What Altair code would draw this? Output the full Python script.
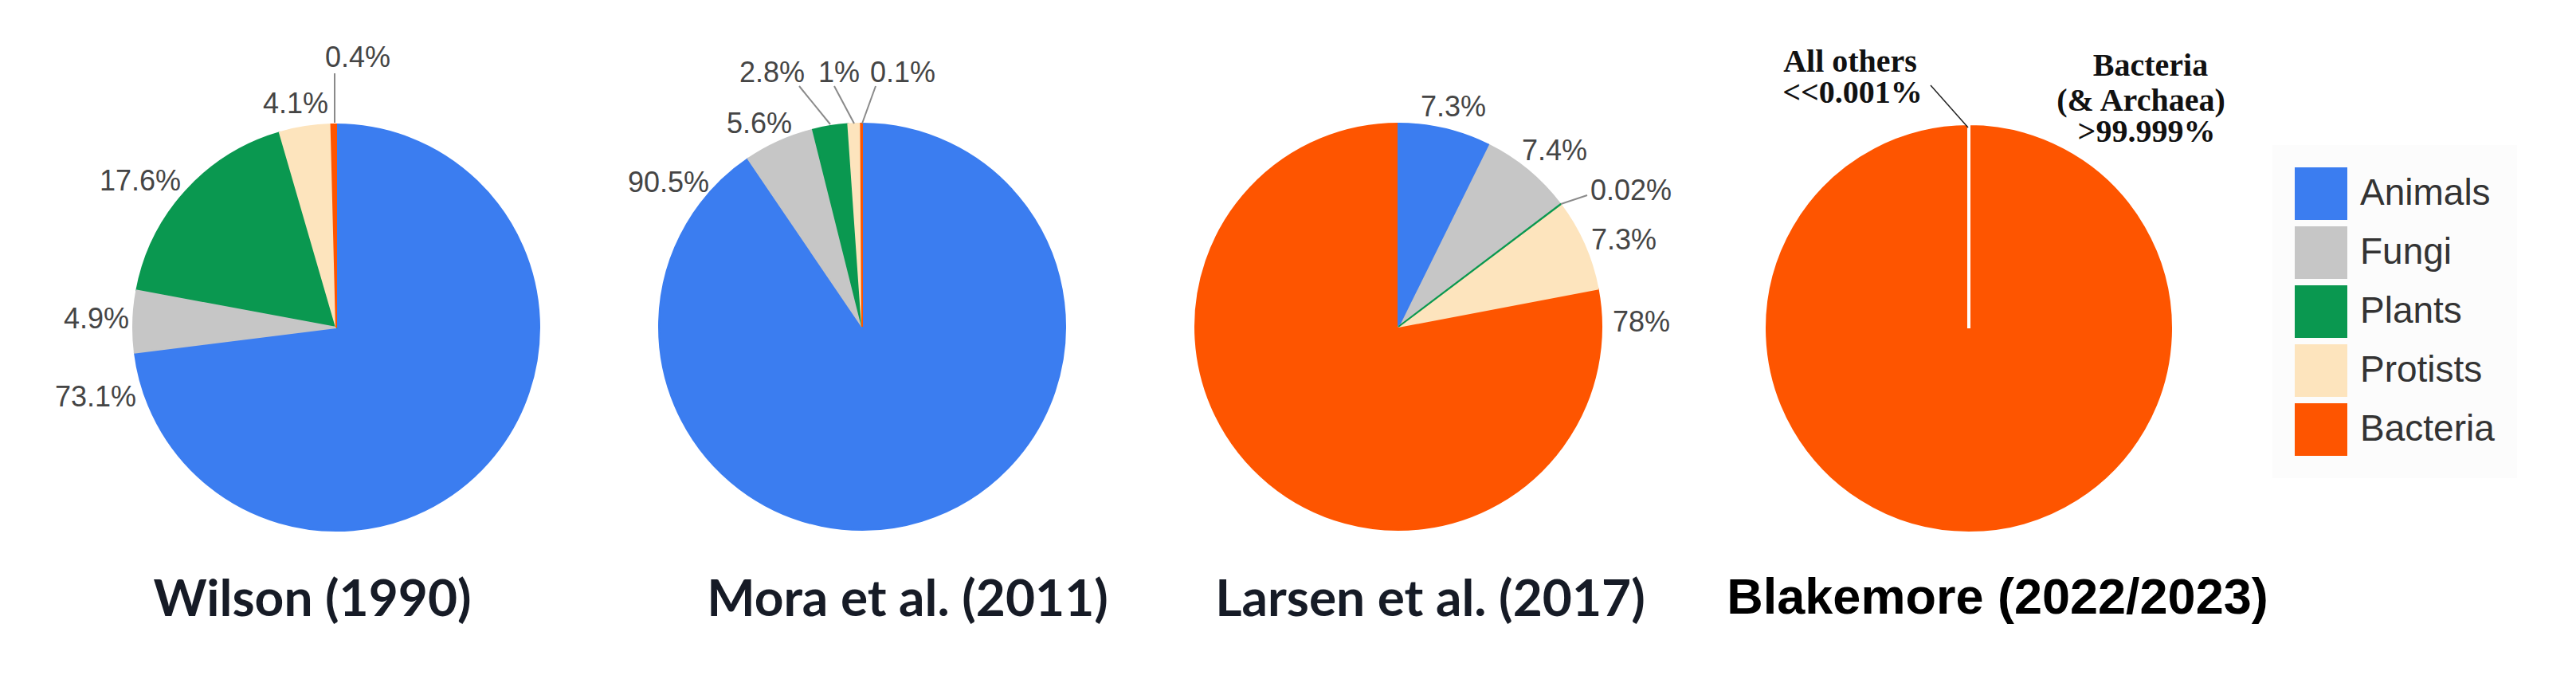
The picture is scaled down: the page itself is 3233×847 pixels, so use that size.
import altair as alt
import pandas as pd

# ---------------- data ----------------
STUDIES = ["Wilson (1990)", "Mora et al. (2011)", "Larsen et al. (2017)", "Blakemore (2022/2023)"]
CATEGORIES = ["Animals", "Fungi", "Plants", "Protists", "Bacteria"]
COLORS = ["#3b7df0", "#c6c6c6", "#0a9850", "#fde4bd", "#fe5500"]

WILSON = [73.1, 4.9, 17.6, 4.1, 0.4]
MORA = [90.5, 5.6, 2.8, 1.0, 0.1]
LARSEN = [7.3, 7.4, 0.02, 7.3, 78.0]
BLAKEMORE = [0.0002, 0.0002, 0.0002, 0.0002, 99.999]

BLAKEMORE_OTHERS_NOTE = ["All others", "<<0.001%"]
BLAKEMORE_BACTERIA_NOTE = ["Bacteria", "(& Archaea)", ">99.999%"]

SERIES = [WILSON, MORA, LARSEN, BLAKEMORE]

rows = []
for study, vals in zip(STUDIES, SERIES):
    part = [dict(study=study, category=c, value=v, order=i)
            for i, (c, v) in enumerate(zip(CATEGORIES, vals))]
    # draw big slices first so that thin slivers stay visible on top
    part.sort(key=lambda r: -r["value"])
    rows.extend(part)
df = pd.DataFrame(rows)

# ---------------- layout (page pixels) ----------------
OFF = 8
W, H = 3217, 831
R = 255
CENTERS = [(422, 411), (1082, 410), (1755, 410), (2471, 412)]
TITLE_XY = [(392, 773), (1139, 773), (1795, 773), (2507, 770)]
PCT_LABEL_XY = [
    [(120, 499), (121, 401), (176, 228), (371, 131), (449, 73)],
    [(839, 230), (953, 156), (969, 92), (1053, 92), (1133, 92)],
    [(1824, 135), (1951, 190), (2047, 240), (2038, 302), (2060, 405)],
]
LEADERS = [
    ((420, 92), (420, 154), "#8a8a8a", 2),
    ((1003, 108), (1042, 156), "#8a8a8a", 2),
    ((1047, 108), (1072, 155), "#8a8a8a", 2),
    ((1099, 108), (1082, 155), "#8a8a8a", 2),
    ((1992, 245), (1959, 256), "#8a8a8a", 2),
    ((2423, 107), (2470, 160), "#222222", 1.5),
]
OTHERS_NOTE_XY = [(2322, 78), (2325, 117)]
BACTERIA_NOTE_XY = [(2699, 83), (2687, 127), (2694, 166)]

color_scale = alt.Scale(domain=CATEGORIES, range=COLORS)
legend = alt.Legend(
    title=None, orient="none", legendX=2844, legendY=174,
    symbolType="square", symbolSize=4356, symbolStrokeWidth=0, symbolOpacity=1,
    labelFont="Liberation Sans", labelFontSize=46, labelColor="#333333",
    labelLimit=600, labelOffset=16, rowPadding=8, padding=28, fillColor="#fcfcfc",
)

anchor = pd.DataFrame({"a": [0]})


def px(x):
    return alt.value(x - OFF)


def text_layer(text, x, y, size, font, color, weight="normal"):
    return alt.Chart(anchor).mark_text(
        text=text, fontSize=size, font=font, color=color, fontWeight=weight,
        align="center", baseline="middle",
    ).encode(x=px(x), y=px(y))


layers = []
for k, study in enumerate(STUDIES):
    cx, cy = CENTERS[k]
    d = df[df["study"] == study]
    if k < 3:
        arc = alt.Chart(d).mark_arc(radius=R, strokeWidth=2).encode(
            theta=alt.Theta("value:Q", stack=True),
            color=alt.Color("category:N", scale=color_scale, legend=legend),
            stroke=alt.Stroke("category:N", scale=color_scale, legend=None),
            order=alt.Order("order:Q", sort="ascending"),
            x=px(cx), y=px(cy),
        )
    else:
        arc = alt.Chart(d).mark_arc(radius=R + 2, stroke="white", strokeWidth=4).encode(
            theta=alt.Theta("value:Q", stack=True),
            color=alt.Color("category:N", scale=color_scale, legend=legend),
            order=alt.Order("order:Q", sort="ascending"),
            x=px(cx), y=px(cy),
        )
    layers.append(arc)

# percentage labels (text built from the values)
for k in range(3):
    for i, v in enumerate(SERIES[k]):
        x, y = PCT_LABEL_XY[k][i]
        layers.append(text_layer(f"{v:g}%", x, y, 36, "Liberation Sans", "#454545"))

# leader lines
for (x1, y1), (x2, y2), col, sw in LEADERS:
    layers.append(
        alt.Chart(anchor).mark_rule(color=col, strokeWidth=sw).encode(
            x=px(x1), y=px(y1), x2=px(x2), y2=px(y2)
        )
    )

# Blakemore notes
for t, (x, y) in zip(BLAKEMORE_OTHERS_NOTE, OTHERS_NOTE_XY):
    layers.append(text_layer(t, x, y, 40, "Liberation Serif", "#111111", "bold"))
for t, (x, y) in zip(BLAKEMORE_BACTERIA_NOTE, BACTERIA_NOTE_XY):
    layers.append(text_layer(t, x, y, 40, "Liberation Serif", "#111111", "bold"))

# panel titles
for k, study in enumerate(STUDIES):
    x, y = TITLE_XY[k]
    if k < 3:
        layers.append(
            alt.Chart(anchor).mark_text(
                text=study, fontSize=64, font="Lato", fontWeight="bold",
                color="#161b26", align="center", baseline="alphabetic",
            ).encode(x=px(x), y=px(y))
        )
    else:
        layers.append(
            alt.Chart(anchor).mark_text(
                text=study, fontSize=63, font="Liberation Sans", fontWeight="bold",
                color="#000000", align="center", baseline="alphabetic",
            ).encode(x=px(x), y=px(y))
        )

chart = (
    alt.layer(*layers)
    .resolve_scale(theta="independent")
    .properties(
        width=W, height=H, padding=0,
        autosize=alt.AutoSizeParams(type="none"),
        background="white",
    )
    .configure_view(strokeWidth=0)
)

chart.save("out.html", embed_options={"renderer": "svg", "actions": False})
